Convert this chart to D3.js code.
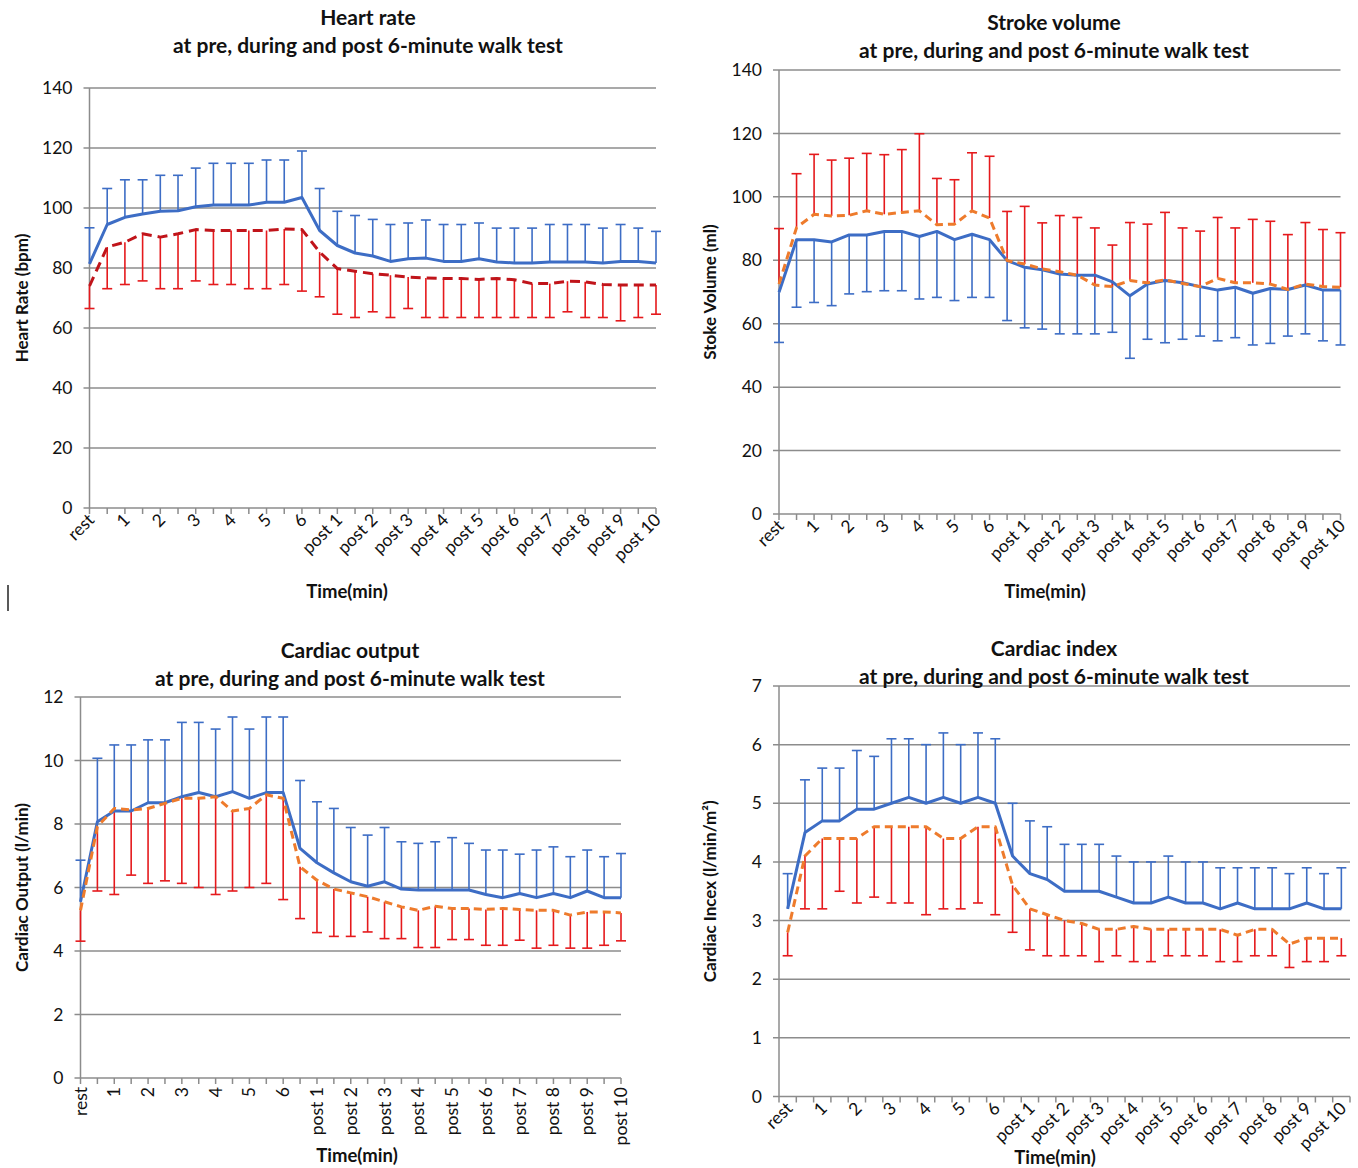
<!DOCTYPE html>
<html><head><meta charset="utf-8">
<script src="https://cdn.jsdelivr.net/npm/d3@7"></script>
<style>body{margin:0;background:#fff;} text{font-family:Lato,'Open Sans',sans-serif;fill:#111;}</style>
</head><body><svg id="c" width="1358" height="1168"></svg>
<script>
const categories = ["rest","0.5","1","1.5","2","2.5","3","3.5","4","4.5","5","5.5","6","post 0.5","post 1","post 1.5","post 2","post 2.5","post 3","post 3.5","post 4","post 4.5","post 5","post 5.5","post 6","post 6.5","post 7","post 7.5","post 8","post 8.5","post 9","post 9.5","post 10"];

// Heart rate
const hrBlue = [81.4,94.5,96.9,98,98.9,99.1,100.4,101,101,101,101.9,101.9,103.5,92.5,87.5,85,84,82.2,83.1,83.3,82.2,82.2,83.1,82,81.7,81.7,82,82,82,81.7,82.2,82.2,81.7];
const hrBlueSd = [12,12,12.5,11.4,12,11.8,12.9,13.9,13.9,13.9,14.1,14.1,15.5,14,11.4,12.5,12.2,12.3,11.9,12.7,12.3,12.3,11.9,11.3,11.6,11.6,12.5,12.5,12.5,11.6,12.3,11.1,10.5];
const hrRed = [74,87,88.6,91.4,90.3,91.4,92.8,92.5,92.5,92.5,92.5,93,92.8,85.3,79.8,78.9,78.1,77.6,77,76.7,76.5,76.5,76.2,76.5,76.1,74.8,74.8,75.6,75.4,74.5,74.3,74.3,74.3];
const hrRedSd = [7.5,13.9,14.1,15.7,17.2,18.3,17.1,18,18,19.4,19.4,18.5,20.5,14.9,15.2,15.4,12.7,14.1,10.5,13.2,13,13,12.7,13,12.6,11.3,11.3,10.2,11.9,11,11.9,10.8,9.7];

// Stroke volume
const svOrange = [72.5,90.3,94.5,94,94.2,95.6,94.5,95.1,95.6,91.2,91.4,95.6,93.3,79.9,78.8,77.3,76.4,75.3,72.2,71.7,73.6,72.9,73.8,72.7,71.7,74.3,72.9,72.9,72.5,70.8,72.5,71.7,71.5];
const svOrangeSd = [17.5,17,18.9,17.6,18,18.1,18.8,19.8,24.3,14.6,14,18.3,19.5,15.5,18.2,14.5,17.7,18.2,18,13.1,18.3,18.5,21.3,17.5,17.5,19.2,17.3,20,19.8,17.3,19.4,18,17.2];
const svBlue = [69.9,86.5,86.5,85.8,88,88,89.1,89.1,87.5,89.1,86.5,88.2,86.5,79.9,77.8,77,75.7,75.3,75.3,73.2,68.8,72.5,73.6,72.9,71.7,70.6,71.5,69.6,71.1,70.8,72.2,70.6,70.6];
const svBlueSd = [15.8,21.3,19.8,20.1,18.6,17.9,18.7,18.7,19.7,20.8,19.2,19.9,18.2,18.9,19.1,18.7,18.9,18.5,18.5,15.9,19.7,17.4,19.6,17.8,15.6,16,15.9,16.3,17.3,14.7,15.4,16,17.3];

// Cardiac output
const coBlue = [5.55,8.07,8.41,8.41,8.67,8.67,8.86,8.99,8.86,9.02,8.81,8.99,8.99,7.23,6.78,6.46,6.18,6.04,6.18,5.95,5.92,5.92,5.92,5.92,5.78,5.68,5.81,5.68,5.81,5.68,5.89,5.68,5.68];
const coBlueSd = [1.31,2,2.08,2.08,1.98,1.98,2.34,2.21,2.13,2.35,2.18,2.38,2.38,2.14,1.92,2.03,1.71,1.61,1.71,1.49,1.47,1.52,1.65,1.47,1.4,1.5,1.24,1.5,1.47,1.29,1.29,1.29,1.39];
const coOrange = [5.28,7.92,8.49,8.44,8.49,8.65,8.81,8.81,8.86,8.41,8.49,8.92,8.81,6.65,6.23,5.95,5.83,5.71,5.55,5.39,5.28,5.41,5.34,5.34,5.31,5.34,5.31,5.28,5.28,5.13,5.23,5.23,5.2];
const coOrangeSd = [0.97,2.03,2.71,2.05,2.36,2.44,2.68,2.81,3.08,2.52,2.49,2.79,3.19,1.63,1.65,1.49,1.37,1.11,1.16,1,1.17,1.3,0.98,0.98,1.13,1.16,0.97,1.19,1.1,1.04,1.14,1.05,0.88];

// Cardiac index
const ciBlue = [3.2,4.5,4.7,4.7,4.9,4.9,5.0,5.1,5.0,5.1,5.0,5.1,5.0,4.1,3.8,3.7,3.5,3.5,3.5,3.4,3.3,3.3,3.4,3.3,3.3,3.2,3.3,3.2,3.2,3.2,3.3,3.2,3.2];
const ciBlueSd = [0.6,0.9,0.9,0.9,1.0,0.9,1.1,1.0,1.0,1.1,1.0,1.1,1.1,0.9,0.9,0.9,0.8,0.8,0.8,0.7,0.7,0.7,0.7,0.7,0.7,0.7,0.6,0.7,0.7,0.6,0.6,0.6,0.7];
const ciOrange = [2.8,4.1,4.4,4.4,4.4,4.6,4.6,4.6,4.6,4.4,4.4,4.6,4.6,3.6,3.2,3.1,3.0,2.95,2.85,2.85,2.9,2.85,2.85,2.85,2.85,2.85,2.75,2.85,2.85,2.6,2.7,2.7,2.7];
const ciOrangeSd = [0.4,0.9,1.2,0.9,1.1,1.2,1.3,1.3,1.5,1.2,1.2,1.3,1.5,0.8,0.7,0.7,0.6,0.55,0.55,0.45,0.6,0.55,0.45,0.45,0.45,0.55,0.45,0.45,0.45,0.4,0.4,0.4,0.3];

const titles = ["Heart rate","Stroke volume","Cardiac output","Cardiac index"];
const subtitle = "at pre, during and post 6-minute walk test";
const yLabels = ["Heart Rate (bpm)","Stoke Volume  (ml)","Cardiac Output (l/min)","Cardiac Incex  (l/min/m²)"];
const xTitle = "Time(min)";

const BLUE = "#3d6dc5", RED = "#e5191c", DARKRED = "#c0141a", ORANGE = "#ee7b2c", GRID = "#8c8c8c";

const panels = [
  {ti:0, box:{l:89.5,r:656,t:88,b:508}, yMax:140, yStep:20, yLabX:22, band:false, xRot:-45, titleX:368, titleY:25, timeX:347, timeY:598,
   series:[{mean:hrBlue,sd:hrBlueSd,dir:1,line:BLUE,bar:BLUE,dash:null},{mean:hrRed,sd:hrRedSd,dir:-1,line:DARKRED,bar:RED,dash:"10,6"}]},
  {ti:1, box:{l:779,r:1340.5,t:70,b:514}, yMax:140, yStep:20, yLabX:710, band:false, xRot:-45, titleX:1054, titleY:30, timeX:1045, timeY:598,
   series:[{mean:svBlue,sd:svBlueSd,dir:-1,line:BLUE,bar:BLUE,dash:null},{mean:svOrange,sd:svOrangeSd,dir:1,line:ORANGE,bar:RED,dash:"8,5"}]},
  {ti:2, box:{l:80.5,r:621,t:697,b:1078}, yMax:12, yStep:2, yLabX:22, band:false, xRot:-90, titleX:350, titleY:658, timeX:357, timeY:1162,
   series:[{mean:coBlue,sd:coBlueSd,dir:1,line:BLUE,bar:BLUE,dash:null},{mean:coOrange,sd:coOrangeSd,dir:-1,line:ORANGE,bar:RED,dash:"8,5"}]},
  {ti:3, box:{l:779,r:1350,t:686,b:1096.5}, yMax:7, yStep:1, yLabX:710, band:true, xRot:-45, titleX:1054, titleY:656, timeX:1055, timeY:1164,
   series:[{mean:ciBlue,sd:ciBlueSd,dir:1,line:BLUE,bar:BLUE,dash:null},{mean:ciOrange,sd:ciOrangeSd,dir:-1,line:ORANGE,bar:RED,dash:"8,5"}]}
];

const svg = d3.select("#c");

panels.forEach(p => {
  const g = svg.append("g");
  const {l,r,t,b} = p.box;
  const x = d3.scalePoint().domain(d3.range(categories.length)).range([l,r]).padding(p.band ? 0.5 : 0);
  const y = d3.scaleLinear().domain([0,p.yMax]).range([b,t]);
  const yTicks = d3.range(0, p.yMax + 0.001, p.yStep);

  g.selectAll("line.grid").data(yTicks).join("line")
    .attr("x1", l-6).attr("x2", r).attr("y1", d=>y(d)).attr("y2", d=>y(d))
    .attr("stroke", GRID).attr("stroke-width", 1.5);
  g.append("line").attr("x1",l).attr("x2",l).attr("y1",t).attr("y2",b).attr("stroke",GRID).attr("stroke-width",1.5);
  g.selectAll("text.yt").data(yTicks).join("text")
    .attr("x", l-17).attr("y", d=>y(d)).attr("dy","0.35em").attr("text-anchor","end")
    .attr("font-size",17.5).text(d=>d);

  let tickPos;
  if (p.band) {
    const step = x.step();
    tickPos = d3.range(categories.length+1).map(i => l + i*step);
  } else {
    tickPos = d3.range(categories.length).map(i => x(i));
  }
  g.selectAll("line.xt").data(tickPos).join("line")
    .attr("x1", d=>d).attr("x2", d=>d).attr("y1", b).attr("y2", b+6)
    .attr("stroke", GRID).attr("stroke-width", 1.5);

  const labIdx = d3.range(0, categories.length, 2);
  g.selectAll("text.xl").data(labIdx).join("text")
    .attr("text-anchor","end").attr("font-size",17.5)
    .attr("transform", i => p.xRot === -90
        ? `translate(${x(i)+6},${b+9}) rotate(-90)`
        : `translate(${x(i)+6},${b+13}) rotate(-45)`)
    .text(i => categories[i]);

  p.series.forEach(s => {
    const idx = d3.range(s.mean.length);
    const eb = g.append("g").attr("stroke", s.bar).attr("stroke-width", 1.6).attr("fill","none");
    eb.selectAll("line.v").data(idx).join("line")
      .attr("x1", i=>x(i)).attr("x2", i=>x(i))
      .attr("y1", i=>y(s.mean[i])).attr("y2", i=>y(s.mean[i] + s.dir*s.sd[i]));
    eb.selectAll("line.c").data(idx).join("line")
      .attr("x1", i=>x(i)-5).attr("x2", i=>x(i)+5)
      .attr("y1", i=>y(s.mean[i] + s.dir*s.sd[i])).attr("y2", i=>y(s.mean[i] + s.dir*s.sd[i]));
  });
  p.series.forEach(s => {
    const line = d3.line().x((d,i)=>x(i)).y(d=>y(d));
    g.append("path").datum(s.mean).attr("d", line).attr("fill","none")
      .attr("stroke", s.line).attr("stroke-width", 3)
      .attr("stroke-dasharray", s.dash).attr("stroke-linejoin","round");
  });

  g.append("text").attr("x",p.titleX).attr("y",p.titleY).attr("text-anchor","middle")
    .attr("font-size",21).attr("font-weight","bold").text(titles[p.ti]);
  g.append("text").attr("x",p.titleX).attr("y",p.titleY+28).attr("text-anchor","middle")
    .attr("font-size",21).attr("font-weight","bold").text(subtitle);
  g.append("text").attr("transform",`translate(${p.yLabX},${(t+b)/2}) rotate(-90)`)
    .attr("dy","0.35em").attr("text-anchor","middle").attr("font-size",17).attr("font-weight","bold")
    .text(yLabels[p.ti]);
  g.append("text").attr("x",p.timeX).attr("y",p.timeY).attr("text-anchor","middle")
    .attr("font-size",18.5).attr("font-weight","bold").text(xTitle);
});

svg.append("line").attr("x1",8).attr("x2",8).attr("y1",585).attr("y2",611).attr("stroke","#222").attr("stroke-width",1.5);
</script></body></html>
